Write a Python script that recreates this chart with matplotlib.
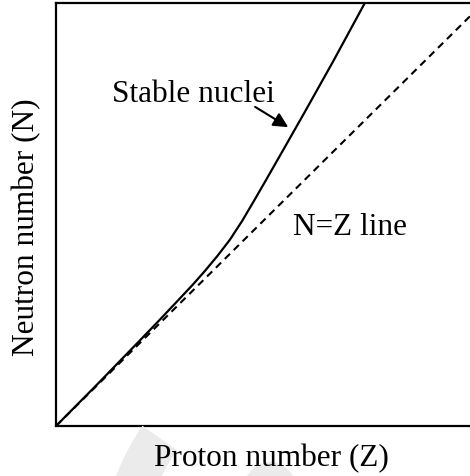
import matplotlib
matplotlib.use("Agg")
import matplotlib.pyplot as plt
from matplotlib.patches import Wedge, Ellipse

# stable-nuclei curve (Z, N)
stable_z = [0, 10, 20, 25, 30, 33, 36, 39, 42, 45, 48, 51, 55, 60, 67, 74.6]
stable_n = [0, 10.1, 20.4, 25.6, 30.9, 34.1, 37.5, 41.1, 45.0, 49.6, 54.7, 59.9,
            66.9, 75.7, 88.2, 102.2]

# N = Z reference line
line_z = [0, 100]
line_n = [0, 99]

W, H = 470, 477
fig = plt.figure(figsize=(W / 100, H / 100), dpi=100)
plt.rcParams["font.family"] = ["Liberation Serif", "DejaVu Serif"]

# faint watermark fragments behind the x label
fig.patches.append(Wedge((330 / W, (H - 560) / H), 229 / W, 145, 172, width=42 / W,
                         transform=fig.transFigure, facecolor="#ebebeb",
                         edgecolor="none", zorder=0))
fig.patches.append(Ellipse((270 / W, (H - 505) / H), 62 / W, 84 / H,
                           transform=fig.transFigure, facecolor="#ebebeb",
                           edgecolor="none", zorder=0))

ax = fig.add_axes([56 / W, (H - 427) / H, (W - 56) / W, (427 - 4) / H])
ax.set_xlim(0, 100)
ax.set_ylim(0, 102.2)
ax.set_xticks([])
ax.set_yticks([])
for side in ("left", "bottom", "top"):
    ax.spines[side].set_linewidth(1.6)
ax.spines["right"].set_visible(False)

ax.plot(stable_z, stable_n, color="black", lw=1.6, solid_joinstyle="round")
ax.plot(line_z, line_n, color="black", lw=1.5, linestyle=(0, (3.5, 2.5)))

fs = 22.5
ax.annotate("", xy=(56.1, 72.2), xytext=(48.1, 77.1),
            arrowprops=dict(arrowstyle="-|>", mutation_scale=22, lw=1.5,
                            color="black", shrinkA=0, shrinkB=0))
ax.text(13.5, 78.5, "Stable nuclei", fontsize=fs, ha="left", va="baseline")
ax.text(57.2, 46.4, "N=Z line", fontsize=fs, ha="left", va="baseline")

fig.text(271 / W, (H - 466) / H, "Proton number (Z)", fontsize=fs,
         ha="center", va="baseline")
fig.text(34 / W, (H - 227) / H, "Neutron number (N)", fontsize=fs, rotation=90,
         rotation_mode="anchor", ha="center", va="baseline")

fig.savefig("out.png", dpi=100, facecolor="white")
